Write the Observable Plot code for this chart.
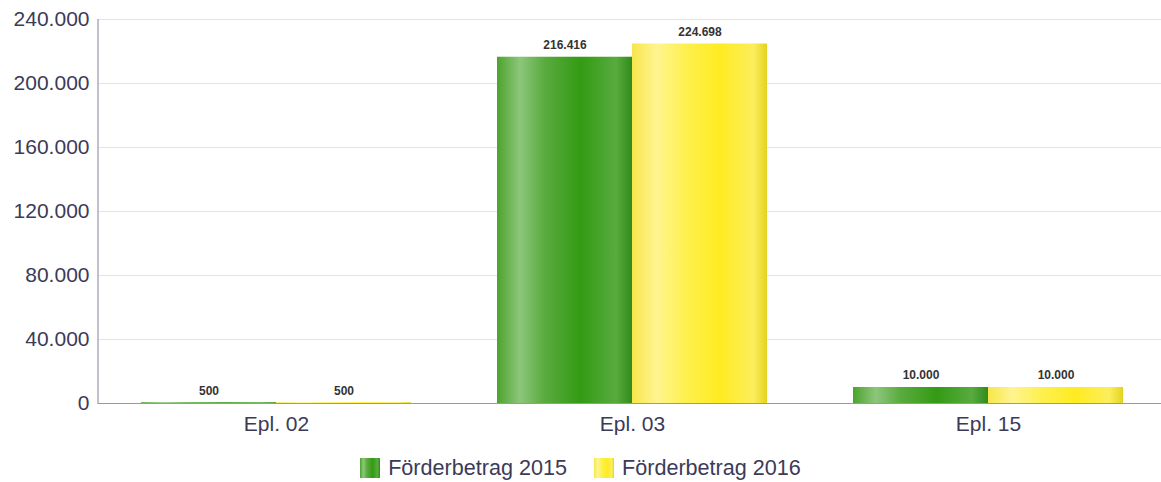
<!DOCTYPE html>
<html><head><meta charset="utf-8">
<script src="https://cdn.jsdelivr.net/npm/d3@7"></script>
<script src="https://cdn.jsdelivr.net/npm/@observablehq/plot@0.6"></script>
<style>
body{margin:0;background:#fff;font-family:"Liberation Sans",Arial,sans-serif;overflow:hidden;}
#chart{width:1161px;overflow:hidden;}
#legend{width:1161px;display:flex;justify-content:center;align-items:center;padding-top:10px;font-size:21.6px;color:#3b3b58;}
.item{display:flex;align-items:center;margin:0 13.5px;}
.sw{width:20px;height:20px;margin-right:8px;}
</style></head><body>
<svg width="0" height="0" style="position:absolute"><defs>
<linearGradient id="g2015" x1="0" x2="1" y1="0" y2="0">
<stop offset="0" stop-color="#4ca32e"/>
<stop offset="0.17" stop-color="#8dc67b"/>
<stop offset="0.35" stop-color="#5aab40"/>
<stop offset="0.62" stop-color="#339b13"/>
<stop offset="0.88" stop-color="#58ab3f"/>
<stop offset="1" stop-color="#2f8c19"/>
</linearGradient>
<linearGradient id="g2016" x1="0" x2="1" y1="0" y2="0">
<stop offset="0" stop-color="#f6e64a"/>
<stop offset="0.18" stop-color="#fff490"/>
<stop offset="0.4" stop-color="#fdf04e"/>
<stop offset="0.65" stop-color="#ffeb22"/>
<stop offset="0.9" stop-color="#fbee5c"/>
<stop offset="1" stop-color="#e5d21e"/>
</linearGradient>
</defs></svg>
<div id="chart"></div>
<div id="legend"></div>
<script>
const categories = ["Epl. 02", "Epl. 03", "Epl. 15"];
const seriesNames = ["Förderbetrag 2015", "Förderbetrag 2016"];
const values2015 = [500, 216416, 10000];
const values2016 = [500, 224698, 10000];
const yTicks = [0, 40000, 80000, 120000, 160000, 200000, 240000];
const seriesFills = ["url(#g2015)", "url(#g2016)"];
const swatchCss = [
  "linear-gradient(to right,#4ca32e 0%,#8dc67b 17%,#5aab40 35%,#339b13 62%,#58ab3f 88%,#2f8c19 100%)",
  "linear-gradient(to right,#f6e64a 0%,#fff490 18%,#fdf04e 40%,#ffeb22 65%,#fbee5c 90%,#e5d21e 100%)"
];

const de = d3.formatLocale({decimal: ",", thousands: ".", grouping: [3], currency: ["", " €"]});
const fmt = de.format(",d");

const data = categories.flatMap((c, i) => [
  {cat: c, s: seriesNames[0], v: values2015[i]},
  {cat: c, s: seriesNames[1], v: values2016[i]}
]);

const textColor = "#3b3b58";
const axisColor = "#9696b4";

const chart = Plot.plot({
  width: 1161,
  height: 445,
  marginTop: 19,
  marginLeft: 98,
  marginRight: -5,
  marginBottom: 42,
  style: {fontFamily: "'Liberation Sans', Arial, sans-serif", background: "#fff"},
  fx: {domain: categories, paddingInner: 0, paddingOuter: 0, round: false, label: null},
  x: {domain: seriesNames, paddingInner: 0, paddingOuter: 0.3185, round: false, axis: null},
  y: {domain: [0, 240000], axis: null},
  marks: [
    Plot.gridY(yTicks, {stroke: "#e3e3e8", strokeOpacity: 1}),
    Plot.axisY(yTicks, {tickSize: 0, tickPadding: 9, tickFormat: fmt, fontSize: 21, fill: textColor, label: null}),
    ...seriesNames.map((s, k) => Plot.barY(data.filter(d => d.s === s), {fx: "cat", x: "s", y: "v", fill: seriesFills[k], inset: 0})),
    Plot.text(data, {fx: "cat", x: "s", y: "v", text: d => fmt(d.v), dy: -12, fontSize: 12, fontWeight: "bold", fill: "#333"}),
    Plot.ruleY([0], {stroke: axisColor, strokeWidth: 1.2}),
    Plot.frame({anchor: "left", facetAnchor: "left", stroke: axisColor, strokeWidth: 1.2, dx: -0.5}),
    Plot.axisFx({anchor: "bottom", tickSize: 0, tickPadding: 13, fontSize: 21, fill: textColor, label: null})
  ]
});
document.getElementById("chart").appendChild(chart);

const legend = document.getElementById("legend");
seriesNames.forEach((s, k) => {
  const it = document.createElement("div");
  it.className = "item";
  const sw = document.createElement("div");
  sw.className = "sw";
  sw.style.background = swatchCss[k];
  const t = document.createElement("span");
  t.textContent = s;
  it.appendChild(sw);
  it.appendChild(t);
  legend.appendChild(it);
});
</script>
</body></html>
